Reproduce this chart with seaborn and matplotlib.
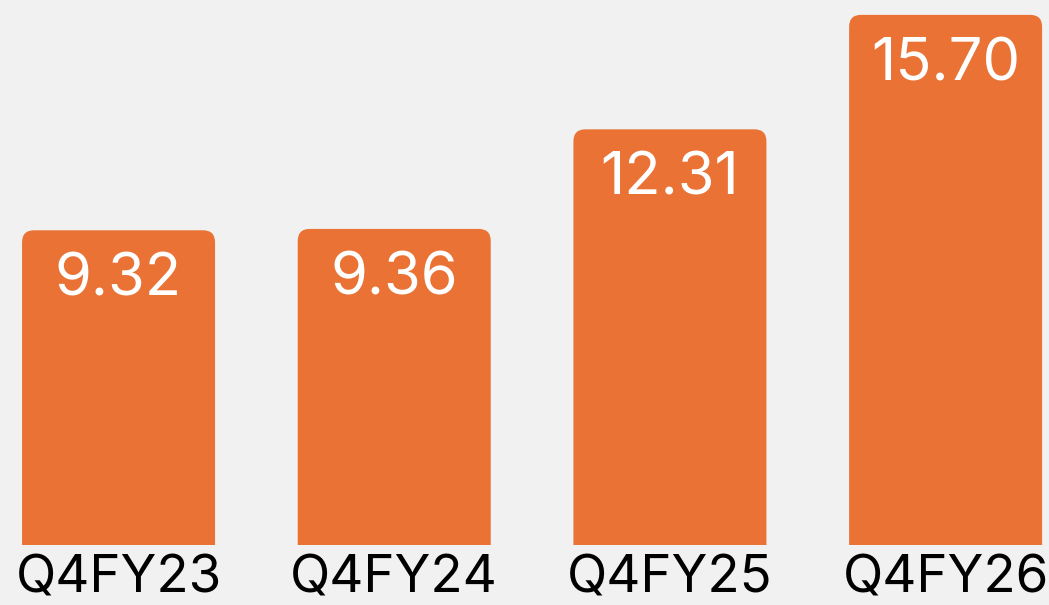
import matplotlib
matplotlib.use("Agg")
import matplotlib.pyplot as plt
import seaborn as sns
import pandas as pd
from matplotlib.patches import FancyBboxPatch

categories = ["Q4FY23", "Q4FY24", "Q4FY25", "Q4FY26"]
values = [9.32, 9.36, 12.31, 15.70]

BG = "#F0F1F0"
ORANGE = "#E97234"

sns.set_theme(style="white")
plt.rcParams["font.family"] = ["Inter", "DejaVu Sans"]

fig = plt.figure(figsize=(10.49, 6.05), dpi=100, facecolor=BG)
ax = fig.add_axes([0, 60 / 605, 1, 545 / 605])
ax.set_facecolor(BG)

df = pd.DataFrame({"cat": categories, "val": values})
sns.barplot(data=df, x="cat", y="val", color=ORANGE, width=0.70, saturation=1, ax=ax)

ax.set_xlim(-0.43, 3.375)
ax.set_ylim(0, 16.14)

# replace bars with rounded-top versions
xr = 1049 / (3.375 + 0.43)
yr = 545 / 16.14
r_px = 12
for p in list(ax.patches):
    x, w, h = p.get_x(), p.get_width(), p.get_height()
    p.set_visible(False)
    fb = FancyBboxPatch((x, -2), w, h + 2,
                        boxstyle=f"round,pad=0,rounding_size={r_px / xr}",
                        mutation_aspect=xr / yr,
                        facecolor=ORANGE, edgecolor="none", clip_on=True)
    ax.add_patch(fb)
    ax.text(x + w / 2, h - 0.66, f"{h:.2f}", ha="center", va="top",
            color="white", fontsize=43)

for s in ax.spines.values():
    s.set_visible(False)
ax.set_yticks([])
ax.set_xlabel("")
ax.set_ylabel("")
ax.tick_params(axis="x", length=0, pad=7, labelsize=38, colors="black")

fig.savefig("out.png", dpi=100, facecolor=BG)
